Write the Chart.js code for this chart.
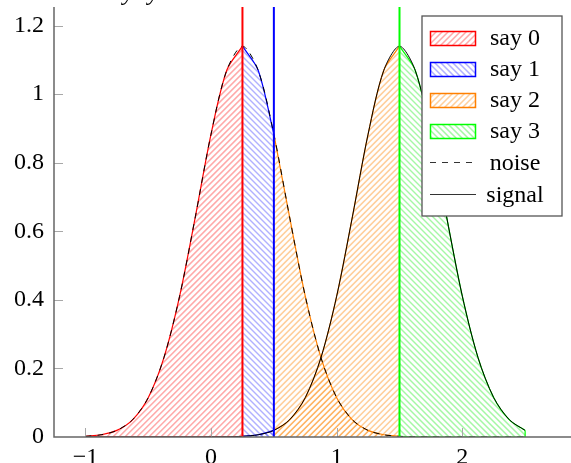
<!DOCTYPE html>
<html>
<head>
<meta charset="utf-8">
<script src="https://cdn.jsdelivr.net/npm/chart.js@4"></script>
<style>
  html, body { margin: 0; padding: 0; background: #fff; }
</style>
</head>
<body>
<canvas id="chart" width="571" height="463"></canvas>
<script>
// --- DATA ---
const xs = [-1, -0.875, -0.75, -0.625, -0.5, -0.375, -0.25, -0.125, 0, 0.125, 0.25, 0.375, 0.5, 0.625,
            0.75, 0.875, 1, 1.125, 1.25, 1.375, 1.5, 1.625, 1.75, 1.875, 2, 2.125, 2.25, 2.375, 2.5];
const noise = [0.0019, 0.0065, 0.0192, 0.0501, 0.1147, 0.2315, 0.4108, 0.6420, 0.8831, 1.0694, 1.1398,
               1.0694, 0.8831, 0.6420, 0.4108, 0.2315, 0.1147, 0.0501, 0.0192, 0.0065, 0.0019, 0.0005,
               0.0001, 0, 0, 0, 0, 0, 0];
const signal = [0, 0, 0, 0, 0, 0, 0, 0, 0.0001, 0.0005, 0.0019, 0.0065, 0.0192, 0.0501, 0.1147, 0.2315,
                0.4108, 0.6420, 0.8831, 1.0694, 1.1398, 1.0694, 0.8831, 0.6420, 0.4108, 0.2315, 0.1147,
                0.0501, 0.0192];
const criteria = [0.25, 0.5, 1.5];
const bounds = [-1, ...criteria, 2.5];
const sayLabels = ['say 0', 'say 1', 'say 2', 'say 3'];
const curveLabels = ['noise', 'signal'];
const xTicks = [-1, 0, 1, 2];
const yTicks = [0, 0.2, 0.4, 0.6, 0.8, 1, 1.2];

// --- STYLE ---
const X_MIN = -1.25, X_MAX = 2.865, Y_MAX = 1.254;
const FONT_FAMILY = '"Liberation Serif", "Times New Roman", serif';
const sayColors = ['#ff0000', '#0000ff', '#ff8000', '#00ff00'];
const hatchColors = ['rgba(255,40,40,0.4)', 'rgba(60,60,255,0.4)', 'rgba(255,140,20,0.42)', 'rgba(40,235,40,0.42)'];
const hatchFlip = [true, false, true, false];   // true: "/" stripes, false: "\" stripes
const criterionColors = ['#ff0000', '#0000ff', '#00ff00'];
const HATCH_STEP = 6;

// "\" stripes over a box; "/" is the same pattern mirrored left-right.
// The caller sets up the clip.
function hatch(ctx, box, flip, color) {
    const { l, t, r, b } = box;
    ctx.save();
    if (flip) {
        ctx.translate(l + r, 0);
        ctx.scale(-1, 1);
    }
    ctx.strokeStyle = color;
    ctx.lineWidth = 1.5;
    ctx.beginPath();
    for (let c = Math.floor((l - b) / HATCH_STEP) * HATCH_STEP; c <= r - t; c += HATCH_STEP) {
        ctx.moveTo(c + t, t);
        ctx.lineTo(c + b, b);
    }
    ctx.stroke();
    ctx.restore();
}

function curvePoints(ys) {
    return xs.map((x, i) => ({ x, y: ys[i] }));
}

// hatched areas between consecutive criteria, under both curves
const regionSets = [];
for (let r = 0; r < sayLabels.length; r++) {
    const lo = bounds[r], hi = bounds[r + 1];
    [noise, signal].forEach(ys => {
        regionSets.push({
            data: curvePoints(ys).filter(p => p.x >= lo && p.x <= hi),
            borderColor: sayColors[r],
            borderWidth: 1.2,
            fill: false,
            hatchIndex: r,
            order: 3
        });
    });
}

const curveSets = [
    { data: curvePoints(noise), borderColor: '#000', borderWidth: 1, borderDash: [6, 6], fill: false, order: 2 },
    { data: curvePoints(signal), borderColor: '#000', borderWidth: 1, fill: false, order: 2 }
];

const criterionSets = criteria.map((c, i) => ({
    data: [{ x: c, y: 0 }, { x: c, y: Y_MAX }],
    borderColor: criterionColors[i],
    borderWidth: 2,
    tension: 0,
    fill: false,
    order: 1
}));

// --- HATCH FILL under each region's line ---
const hatchPlugin = {
    id: 'hatchFill',
    beforeDatasetDraw(chart, args) {
        const ds = chart.data.datasets[args.index];
        if (ds.hatchIndex === undefined) return;
        const { ctx, chartArea: a, scales: { y } } = chart;
        const line = args.meta.dataset;
        const pts = args.meta.data;
        if (!pts.length) return;
        const base = y.getPixelForValue(0);
        line.updateControlPoints(a, 'x');
        ctx.save();
        ctx.beginPath();
        ctx.rect(a.left, a.top, a.right - a.left, a.bottom - a.top);
        ctx.clip();
        ctx.beginPath();
        line.path(ctx);
        ctx.lineTo(pts[pts.length - 1].x, base);
        ctx.lineTo(pts[0].x, base);
        ctx.closePath();
        ctx.clip();
        hatch(ctx, { l: pts[0].x, t: a.top, r: pts[pts.length - 1].x, b: base },
              hatchFlip[ds.hatchIndex], hatchColors[ds.hatchIndex]);
        ctx.restore();
    }
};

// --- AXES: spines and inward ticks ---
const axesPlugin = {
    id: 'axesPlugin',
    afterDatasetsDraw(chart) {
        const { ctx, chartArea: a, scales: { x, y } } = chart;
        ctx.save();
        // closing edge of the last hatched area
        const xe = x.getPixelForValue(bounds[bounds.length - 1]);
        ctx.strokeStyle = sayColors[sayColors.length - 1];
        ctx.lineWidth = 1.2;
        ctx.beginPath();
        ctx.moveTo(xe, a.bottom);
        ctx.lineTo(xe, y.getPixelForValue(signal[signal.length - 1]));
        ctx.stroke();

        ctx.strokeStyle = '#a8a8a8';
        ctx.lineWidth = 1;
        ctx.beginPath();
        xTicks.forEach(v => {
            const px = Math.round(x.getPixelForValue(v)) + 0.5;
            ctx.moveTo(px, a.bottom);
            ctx.lineTo(px, a.bottom - 9);
        });
        yTicks.forEach(v => {
            if (v === 0) return;
            const py = Math.round(y.getPixelForValue(v)) + 0.5;
            ctx.moveTo(a.left, py);
            ctx.lineTo(a.left + 9, py);
        });
        ctx.stroke();
        ctx.strokeStyle = '#666';
        ctx.lineWidth = 1.5;
        ctx.beginPath();
        ctx.moveTo(a.left, a.top);
        ctx.lineTo(a.left, a.bottom);
        ctx.lineTo(a.right, a.bottom);
        ctx.stroke();
        ctx.restore();
    }
};

// --- LEGEND ---
const legendPlugin = {
    id: 'boxLegend',
    afterDraw(chart) {
        const ctx = chart.ctx;
        const bx = 422, by = 16, bw = 140, bh = 200;
        const rowY = i => 37.5 + i * 31.2;
        ctx.save();
        ctx.fillStyle = '#fff';
        ctx.fillRect(bx, by, bw, bh);
        ctx.strokeStyle = '#555';
        ctx.lineWidth = 1.3;
        ctx.strokeRect(bx, by, bw, bh);
        ctx.font = '24px ' + FONT_FAMILY;
        ctx.textAlign = 'center';
        ctx.textBaseline = 'middle';
        sayLabels.forEach((lab, i) => {
            const cy = Math.round(rowY(i));
            const sw = { l: 430.5, t: cy - 6.5, r: 475.5, b: cy + 7.5 };
            ctx.save();
            ctx.beginPath();
            ctx.rect(sw.l, sw.t, sw.r - sw.l, sw.b - sw.t);
            ctx.clip();
            hatch(ctx, sw, hatchFlip[i], hatchColors[i]);
            ctx.restore();
            ctx.strokeStyle = sayColors[i];
            ctx.lineWidth = 1.5;
            ctx.beginPath();
            ctx.rect(sw.l, sw.t, sw.r - sw.l, sw.b - sw.t);
            ctx.stroke();
            ctx.fillStyle = '#000';
            ctx.fillText(lab, 515, cy + 1);
        });
        curveLabels.forEach((lab, k) => {
            const cy = Math.round(rowY(sayLabels.length + k)) + 0.5;
            ctx.strokeStyle = '#333';
            ctx.lineWidth = 1;
            ctx.setLineDash(k === 0 ? [6, 6] : []);
            ctx.beginPath();
            ctx.moveTo(430, cy);
            ctx.lineTo(476, cy);
            ctx.stroke();
            ctx.setLineDash([]);
            ctx.fillStyle = '#000';
            ctx.fillText(lab, 515, cy + 1);
        });
        // title line sitting just above the plot
        ctx.font = 'italic 24px ' + FONT_FAMILY;
        ctx.textAlign = 'left';
        ctx.textBaseline = 'alphabetic';
        ctx.fillText('y', 123, 0);
        ctx.fillText('y', 148, 0);
        ctx.restore();
    }
};

const tickFont = { family: FONT_FAMILY, size: 24 };
const fmt = v => (v < 0 ? '\u2212' + Math.abs(v) : (v === 0 || Number.isInteger(v) ? String(v) : v.toFixed(1)));
const noPad = s => { s.paddingTop = 0; s.paddingBottom = 0; s.paddingLeft = 0; s.paddingRight = 0; };

new Chart(document.getElementById('chart'), {
    type: 'line',
    data: { datasets: [...criterionSets, ...curveSets, ...regionSets] },
    options: {
        responsive: false,
        animation: false,
        layout: { padding: { top: 7, right: 0, left: 0, bottom: 0 } },
        plugins: { legend: { display: false }, tooltip: { enabled: false } },
        elements: { point: { radius: 0 }, line: { tension: 0.3 } },
        scales: {
            x: {
                type: 'linear', min: X_MIN, max: X_MAX,
                afterBuildTicks: s => { s.ticks = xTicks.map(v => ({ value: v })); },
                afterFit: s => { s.height = 26; noPad(s); },
                grid: { display: false, drawTicks: false },
                border: { display: false },
                ticks: { padding: 6, font: tickFont, color: '#000', maxRotation: 0, callback: fmt }
            },
            y: {
                type: 'linear', min: 0, max: Y_MAX,
                afterBuildTicks: s => { s.ticks = yTicks.map(v => ({ value: v })); },
                afterFit: s => { s.width = 54; noPad(s); },
                grid: { display: false, drawTicks: false },
                border: { display: false },
                ticks: { padding: 10, font: tickFont, color: '#000', callback: fmt }
            }
        }
    },
    plugins: [hatchPlugin, axesPlugin, legendPlugin]
});
</script>
</body>
</html>
